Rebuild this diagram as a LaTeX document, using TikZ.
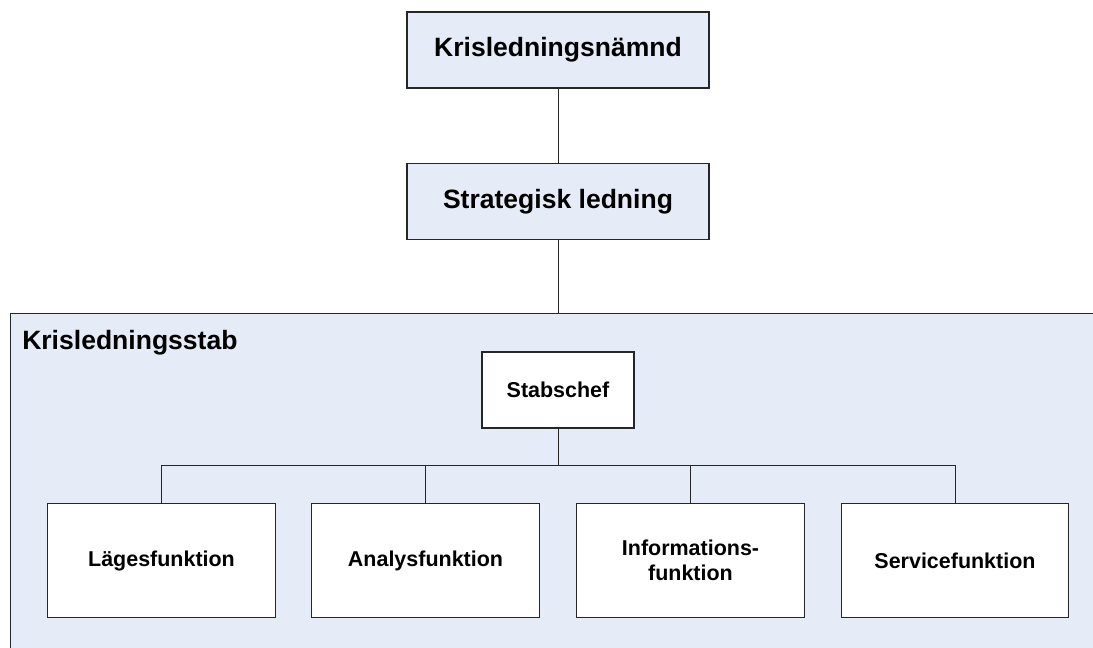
\documentclass[tikz,border=0pt]{standalone}
\usepackage{fontspec}
\setmainfont{Liberation Sans}
\usetikzlibrary{positioning}
\definecolor{stabblue}{HTML}{E6ECF7}
\begin{document}
\begin{tikzpicture}[x=0.75pt,y=-0.75pt]
		\tikzstyle{topbox} = [draw=black!85, line width=0.8pt, fill=stabblue, minimum width=226.5pt, minimum height=57pt, inner sep=0, font=\fontsize{19.9}{24}\selectfont\bfseries]
		\tikzstyle{funbox} = [draw=black!85, line width=0.8pt, fill=white, minimum width=170.5pt, minimum height=85pt, inner sep=0, align=center, font=\fontsize{16.1}{18.8}\selectfont\bfseries]
		\tikzstyle{chefbox} = [funbox, minimum width=114pt, minimum height=57pt]
		\tikzstyle{line} = [draw=black!85, line width=0.75pt]
		\clip (0,0) rectangle (1093,648);
		\fill [white] (0,0) rectangle (1093,648);
		% staben
		\draw [line, fill=stabblue] (10,314) rectangle (1110,670);
		\node [anchor=base west, inner sep=0, font=\fontsize{19.9}{24}\selectfont\bfseries] (v_stab) at (22,350) {Krisledningsstab};
		\node [topbox] (v_namnd) at (558,50) {Krisledningsnämnd};
		\node [topbox] (v_strat) at (558,201.5) {Strategisk ledning};
		\node [chefbox] (v_chef) at (558,390) {Stabschef};
		\node [funbox] (v_lage) at (161.5,560.5) {Lägesfunktion};
		\node [funbox] (v_analys) at (425.5,560.5) {Analysfunktion};
		\node [funbox] (v_info) at (690.5,560.5) {Informations-\\funktion};
		\node [funbox] (v_service) at (955,560.5) {Servicefunktion};
		\coordinate (v_bus) at (558,466);
		\coordinate (v_stabtop) at (558,314);
		\draw [line] (v_namnd) -- (v_strat);
		\draw [line] (v_strat) -- (v_stabtop);
		\draw [line] (v_chef) -- (v_bus);
		\draw [line] (v_bus) -| (v_lage);
		\draw [line] (v_bus) -| (v_analys);
		\draw [line] (v_bus) -| (v_info);
		\draw [line] (v_bus) -| (v_service);
\end{tikzpicture}
\end{document}
